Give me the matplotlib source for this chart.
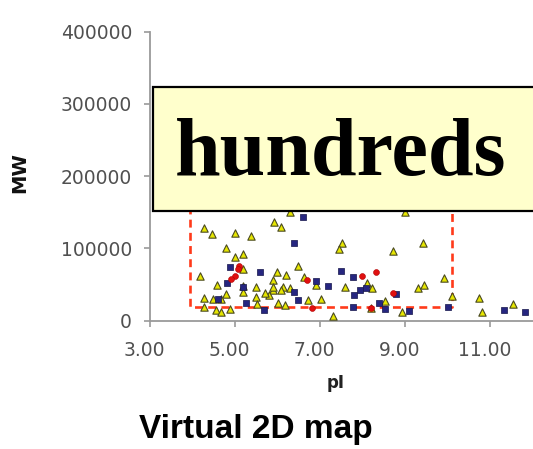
import matplotlib
matplotlib.use("Agg")
import matplotlib.pyplot as plt
from matplotlib.patches import Rectangle
from matplotlib.transforms import ScaledTranslation

# ---- data (pI, MW) ----
tri_pi = [6.29, 8.99, 4.28, 4.46, 5.00, 5.38, 5.91, 6.09, 4.79, 5.00, 5.19, 7.50, 7.43,
          8.72, 9.42, 4.18, 4.57, 5.19, 5.18, 5.19, 5.49, 5.99, 6.19, 5.90, 6.12, 6.08,
          5.88, 5.80, 6.28, 6.47, 6.61, 6.90, 4.79, 4.28, 4.47, 4.66, 5.49, 5.51, 4.27,
          4.56, 4.67, 4.87, 6.01, 6.17, 6.72, 7.01, 7.29, 7.59, 8.10, 8.21, 8.53, 9.30,
          9.43, 9.91, 10.10, 10.72, 10.80, 11.54, 8.92, 8.19, 5.88, 5.70]
tri_mw = [150700, 150700, 128500, 119400, 121200, 117700, 136400, 129500, 100800, 88400,
          92400, 108000, 99300, 96300, 107300, 61200, 49200, 71300, 47800, 39500, 46400,
          67200, 63000, 56100, 46000, 42200, 42200, 35300, 44600, 75500, 60900, 48500,
          36300, 31200, 29800, 29800, 33000, 22400, 18700, 13900, 11800, 16300, 24200,
          20800, 28800, 29400, 6200, 46400, 51900, 45000, 27700, 44600, 49600, 58900,
          34600, 31200, 12200, 22900, 11800, 16900, 47000, 37500]

sq_pi = [6.60, 6.38, 4.87, 5.58, 7.49, 7.78, 6.90, 7.19, 4.80, 5.18, 6.39, 7.80, 7.94,
         8.07, 8.78, 4.60, 5.26, 5.69, 6.47, 7.78, 8.37, 8.52, 9.08, 10.01, 11.33, 11.82]
sq_mw = [143800, 107800, 74100, 67200, 68100, 59600, 54300, 48100, 51500, 46000, 39900,
         35300, 41600, 44600, 36300, 29400, 24700, 14500, 28400, 18700, 24200, 15700,
         12500, 18700, 13900, 11400]

red_pi = [5.10, 5.06, 5.00, 4.91, 6.68, 7.98, 8.32, 6.80, 8.19, 8.70]
red_mw = [75000, 71300, 61600, 56800, 56100, 61900, 67200, 16900, 18000, 37700]

box_pi = [3.95, 10.10]
box_mw = [19000, 250000]

x_ticks = [3.0, 5.0, 7.0, 9.0, 11.0]
x_tick_labels = ["3.00", "5.00", "7.00", "9.00", "11.00"]
y_ticks = [0, 100000, 200000, 300000, 400000]
y_tick_labels = ["0", "100000", "200000", "300000", "400000"]

W, H = 533, 449
fig = plt.figure(figsize=(W / 100, H / 100), dpi=100)
ax = fig.add_axes([150 / W, (H - 320.5) / H, 1 - 150 / W, (320.5 - 31.7) / H])
ax.set_xlim(3.0, 12.0)
ax.set_ylim(0, 400000)

for s in ["top", "right"]:
    ax.spines[s].set_visible(False)
for s in ["left", "bottom"]:
    ax.spines[s].set_color("#9a9a9a")
    ax.spines[s].set_linewidth(1.3)

ax.set_xticks(x_ticks)
ax.set_xticklabels(x_tick_labels)
ax.set_yticks(y_ticks)
ax.set_yticklabels(y_tick_labels)
ax.tick_params(axis="both", direction="out", length=4, width=1.2, color="#9a9a9a",
               labelsize=13.5, labelcolor="#505050")
ax.tick_params(axis="x", pad=11)
ax.tick_params(axis="y", pad=9)
for lab in ax.get_xticklabels():
    lab.set_transform(lab.get_transform() + ScaledTranslation(-6 / 100, 0, fig.dpi_scale_trans))

# dashed selection rectangle
ax.plot([box_pi[0], box_pi[0], box_pi[1], box_pi[1], box_pi[0]],
        [box_mw[1], box_mw[0], box_mw[0], box_mw[1], box_mw[1]],
        color="#ff3a1a", lw=1.9, linestyle=(0, (3.0, 2.0)), zorder=2)

ax.scatter(tri_pi, tri_mw, marker="^", s=28, facecolor="#e6e600", edgecolor="#4a4a20",
           linewidths=0.8, zorder=3)
ax.scatter(sq_pi, sq_mw, marker="s", s=22, facecolor="#262680", edgecolor="#15154a",
           linewidths=0.5, zorder=4)
ax.scatter(red_pi, red_mw, marker="o", s=18, facecolor="#e01010", edgecolor="#b00000",
           linewidths=0.4, zorder=5)

# axis labels
fig.text(336 / W, (H - 388) / H, "pI", ha="center", va="baseline", fontsize=12,
         fontweight="bold", color="#222222")
fig.text(20 / W, (H - 173) / H, "MW", ha="center", va="center", rotation=90,
         fontsize=14, fontweight="bold", color="#111111")

# title
fig.text(256 / W, (H - 438) / H, "Virtual 2D map", ha="center", va="baseline",
         fontsize=24, fontweight="bold", family="Liberation Sans", color="#000000")

# callout box
fig.add_artist(Rectangle((153 / W, (H - 210.5) / H), 1.0, (210.5 - 87) / H,
                         transform=fig.transFigure, facecolor="#ffffcc",
                         edgecolor="#000000", linewidth=1.6, zorder=10))
fig.text(175 / W, (H - 175) / H, "hundreds", ha="left", va="baseline", fontsize=59,
         fontweight="bold", family="Liberation Serif", color="#000000", zorder=11)

fig.savefig("out.png", dpi=100)
